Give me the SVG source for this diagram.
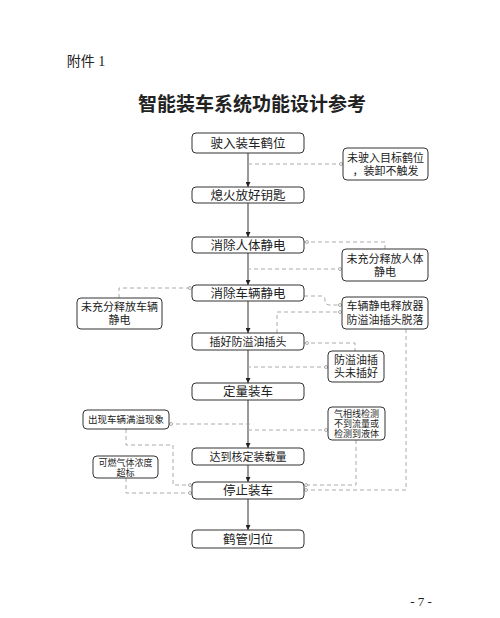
<svg xmlns="http://www.w3.org/2000/svg" width="500" height="618" viewBox="0 0 500 618">
<defs>
<style>
text{font-family:"Liberation Serif","Noto Sans CJK SC",serif;fill:#222;text-anchor:middle;}
.box{fill:#fff;stroke:#333;stroke-width:1;}
.main{font-size:12.5px;}
.side{font-size:11px;}
.small{font-size:9px;}
.flow{fill:none;stroke:#333;stroke-width:1;marker-end:url(#arr);}
.dash{fill:none;stroke:#aaa;stroke-width:1;stroke-dasharray:4 3;}
.dc{fill:#fff;stroke:#999;stroke-width:0.8;}
</style>
<marker id="arr" viewBox="0 0 6 6" refX="6" refY="3" markerWidth="5" markerHeight="5" orient="auto">
<path d="M0,0 L6,3 L0,6 z" fill="#222"/>
</marker>
</defs>
<rect width="500" height="618" fill="#fff"/>
<text x="86" y="66" style="font-size:14px">附件 1</text>
<text x="252" y="111" style="font-size:19px;font-weight:bold">智能装车系统功能设计参考</text>

<g id="connectors">
<path class="flow" d="M248,153 V187"/>
<path class="flow" d="M248,203 V237"/>
<path class="flow" d="M248,253 V285"/>
<path class="flow" d="M248,301 V333"/>
<path class="flow" d="M248,350 V383"/>
<path class="flow" d="M248,400 V448"/>
<path class="flow" d="M248,465 V482"/>
<path class="flow" d="M248,499 V530"/>
<path class="dash" d="M343,164 H248"/>
<circle class="dc" cx="341" cy="164" r="1.5"/>
<path class="dash" d="M304,242 H385 V249"/>
<circle class="dc" cx="307" cy="242" r="1.5"/>
<path class="dash" d="M342,269 H248"/>
<circle class="dc" cx="340" cy="269" r="1.5"/>
<path class="dash" d="M304,296 H322 Q325,296 325,300 Q325,305 330,305 H342"/>
<circle class="dc" cx="340" cy="305" r="1.5"/>
<path class="dash" d="M277,333 V312 H342"/>
<circle class="dc" cx="340" cy="312" r="1.5"/>
<path class="dash" d="M119,298 V288 H192"/>
<circle class="dc" cx="190" cy="288" r="1.5"/>
<path class="dash" d="M304,343 H355 V351"/>
<circle class="dc" cx="307" cy="343" r="1.5"/>
<path class="dash" d="M328,367 H248"/>
<circle class="dc" cx="326" cy="367" r="1.5"/>
<path class="dash" d="M169,424 H250"/>
<circle class="dc" cx="171" cy="424" r="1.5"/>
<path class="dash" d="M248,430 H328"/>
<circle class="dc" cx="326" cy="430" r="1.5"/>
<path class="dash" d="M126,429 V445 H173 V485 H192"/>
<circle class="dc" cx="190" cy="485" r="1.5"/>
<path class="dash" d="M126,478 V493 H192"/>
<circle class="dc" cx="190" cy="493" r="1.5"/>
<path class="dash" d="M356,440 V485 H304"/>
<circle class="dc" cx="306" cy="485" r="1.5"/>
<path class="dash" d="M406,329 V490 H304"/>
<circle class="dc" cx="306" cy="490" r="1.5"/>
</g>

<g id="n1"><rect class="box" x="192" y="133" width="112" height="20" rx="4"/><text class="main" x="248" y="147.5">驶入装车鹤位</text></g>
<g id="n2"><rect class="box" x="192" y="187" width="112" height="16" rx="4"/><text class="main" x="248" y="199.5">熄火放好钥匙</text></g>
<g id="n3"><rect class="box" x="192" y="237" width="112" height="16" rx="4"/><text class="main" x="248" y="249.5">消除人体静电</text></g>
<g id="n4"><rect class="box" x="192" y="285" width="112" height="16" rx="4"/><text class="main" x="248" y="297.5">消除车辆静电</text></g>
<g id="n5"><rect class="box" x="192" y="333" width="112" height="17" rx="4"/><text x="248" y="345.5" style="font-size:11px">插好防溢油插头</text></g>
<g id="n6"><rect class="box" x="192" y="383" width="112" height="17" rx="4"/><text class="main" x="248" y="396">定量装车</text></g>
<g id="n7"><rect class="box" x="192" y="448" width="112" height="17" rx="4"/><text x="248" y="460.5" style="font-size:11px">达到核定装载量</text></g>
<g id="n8"><rect class="box" x="192" y="482" width="112" height="17" rx="4"/><text class="main" x="248" y="495">停止装车</text></g>
<g id="n9"><rect class="box" x="192" y="530" width="112" height="18" rx="4"/><text class="main" x="248" y="543.5">鹤管归位</text></g>

<g id="s1"><rect class="box" x="343" y="148" width="85" height="32" rx="4"/><text class="side" x="385.5" y="162">未驶入目标鹤位</text><text class="side" x="385.5" y="175">，装卸不触发</text></g>
<g id="s2"><rect class="box" x="342" y="249" width="86" height="32" rx="4"/><text class="side" x="385" y="263">未充分释放人体</text><text class="side" x="385" y="276">静电</text></g>
<g id="s3"><rect class="box" x="342" y="297" width="86" height="32" rx="4"/><text class="side" x="385" y="310">车辆静电释放器</text><text class="side" x="385" y="324">防溢油插头脱落</text></g>
<g id="s4"><rect class="box" x="77" y="298" width="85" height="31" rx="4"/><text class="side" x="119.5" y="311">未充分释放车辆</text><text class="side" x="119.5" y="324">静电</text></g>
<g id="s5"><rect class="box" x="328" y="351" width="56" height="31" rx="4"/><text class="side" x="356" y="364">防溢油插</text><text class="side" x="356" y="377">头未插好</text></g>
<g id="s6"><rect class="box" x="83" y="410" width="86" height="19" rx="4"/><text x="126" y="423" style="font-size:9.5px">出现车辆满溢现象</text></g>
<g id="s7"><rect class="box" x="328" y="407" width="57" height="33" rx="4"/><text class="small" x="356.5" y="417">气相线检测</text><text class="small" x="356.5" y="427">不到流量或</text><text class="small" x="356.5" y="437">检测到液体</text></g>
<g id="s8"><rect class="box" x="93" y="456" width="65" height="22" rx="4"/><text class="small" x="125.5" y="466">可燃气体浓度</text><text class="small" x="125.5" y="475.5">超标</text></g>

<text x="421" y="606" style="font-size:13px">- 7 -</text>
</svg>
